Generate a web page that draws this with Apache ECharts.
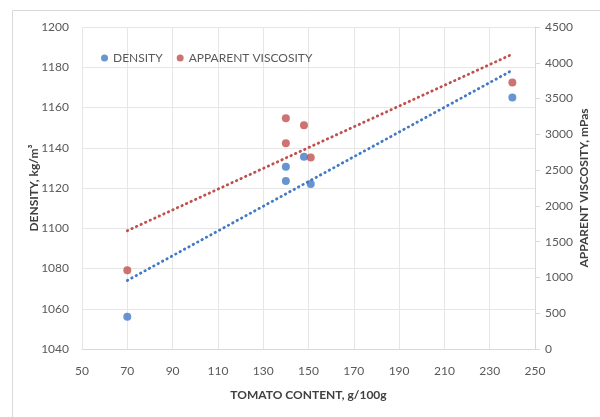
<!DOCTYPE html>
<html>
<head>
    <meta charset="UTF-8">
    <title>tomato</title>
    <script src="https://cdn.jsdelivr.net/npm/echarts@6/dist/echarts.min.js"></script>
    <style>
        *{margin:0;padding:0}
        html, body{width:100%;height:100%;background:#fff}
        #main{width:600px;height:417px}
    </style>
</head>
<body>
    <div id="main"></div>
    <script type="text/javascript">
        // tomato content, g/100g
        var tomato = [70, 140, 140, 148, 151, 240];
        // density, kg/m3
        var density = [1056, 1130.5, 1123.5, 1135.5, 1122, 1165];
        // apparent viscosity, mPas
        var viscosity = [1100, 3225, 2876, 3127, 2675, 3723];

        // linear trendline (least squares), like the spreadsheet one
        function trend(xs, ys) {
            var n = xs.length, mx = 0, my = 0, sxx = 0, sxy = 0;
            for (var i = 0; i < n; i++) { mx += xs[i] / n; my += ys[i] / n; }
            for (var j = 0; j < n; j++) {
                sxx += (xs[j] - mx) * (xs[j] - mx);
                sxy += (xs[j] - mx) * (ys[j] - my);
            }
            var k = sxy / sxx;
            var x0 = Math.min.apply(null, xs), x1 = Math.max.apply(null, xs);
            return [[x0, my + k * (x0 - mx)], [x1, my + k * (x1 - mx)]];
        }

        function pairs(xs, ys) {
            return xs.map(function (x, i) { return [x, ys[i]]; });
        }

        var blue = '#4279c4';
        var red = '#c0504d';
        var font = 'Lato, "Open Sans", sans-serif';
        var gridLine = {show: true, lineStyle: {color: '#e6e6e6', width: 1}};
        var plain = function (v) { return String(v); };

        var myChart = echarts.init(document.getElementById('main'));
        var option = {
            animation: false,
            textStyle: {fontFamily: font},
            graphic: [{
                type: 'rect',
                shape: {x: 12.5, y: 10.5, width: 600, height: 420},
                style: {fill: null, stroke: '#d9d9d9', lineWidth: 1},
                silent: true
            }],
            legend: {
                left: 96,
                top: 47,
                itemWidth: 7,
                itemHeight: 7,
                itemGap: 14,
                textStyle: {color: '#595959', fontSize: 12, fontFamily: font},
                data: [
                    {name: 'DENSITY', icon: 'circle'},
                    {name: 'APPARENT VISCOSITY', icon: 'circle'}
                ]
            },
            grid: {left: 82, right: 65, top: 27, bottom: 68},
            xAxis: {
                type: 'value',
                min: 50,
                max: 250,
                interval: 20,
                name: 'TOMATO CONTENT, g/100g',
                nameLocation: 'middle',
                nameGap: 40,
                nameTextStyle: {color: '#404040', fontWeight: 'bold', fontSize: 12, fontFamily: font},
                axisLine: {lineStyle: {color: '#d9d9d9'}},
                axisTick: {show: false},
                axisLabel: {color: '#595959', fontSize: 12, margin: 16, formatter: plain},
                splitLine: gridLine
            },
            yAxis: [{
                type: 'value',
                min: 1040,
                max: 1200,
                interval: 20,
                name: 'DENSITY, kg/m\u00b3',
                nameLocation: 'middle',
                nameGap: 42,
                nameMoveOverlap: false,
                nameTextStyle: {color: '#404040', fontWeight: 'bold', fontSize: 12, fontFamily: font},
                axisLine: {show: false},
                axisTick: {show: false},
                axisLabel: {color: '#595959', fontSize: 12, margin: 13, formatter: plain},
                splitLine: gridLine
            }, {
                type: 'value',
                min: 0,
                max: 4500,
                interval: 500,
                position: 'right',
                name: 'APPARENT VISCOSITY, mPas',
                nameLocation: 'middle',
                nameGap: 43,
                nameMoveOverlap: false,
                nameRotate: 90,
                nameTextStyle: {color: '#404040', fontWeight: 'bold', fontSize: 12, fontFamily: font},
                axisLine: {show: true, lineStyle: {color: '#d9d9d9'}},
                axisTick: {show: true, length: 5, lineStyle: {color: '#d9d9d9'}},
                axisLabel: {color: '#595959', fontSize: 12, margin: 10, formatter: plain},
                splitLine: {show: false}
            }],
            series: [{
                name: 'DENSITY',
                type: 'scatter',
                yAxisIndex: 0,
                symbolSize: 8,
                itemStyle: {color: blue},
                data: pairs(tomato, density),
                z: 3
            }, {
                name: 'APPARENT VISCOSITY',
                type: 'scatter',
                yAxisIndex: 1,
                symbolSize: 8,
                itemStyle: {color: red},
                data: pairs(tomato, viscosity),
                z: 3
            }, {
                name: 'density trend',
                type: 'line',
                yAxisIndex: 0,
                showSymbol: false,
                silent: true,
                lineStyle: {color: blue, width: 2.8, type: [0.5, 4.5], cap: 'round'},
                data: trend(tomato, density),
                z: 2
            }, {
                name: 'viscosity trend',
                type: 'line',
                yAxisIndex: 1,
                showSymbol: false,
                silent: true,
                lineStyle: {color: red, width: 2.8, type: [0.5, 4.5], cap: 'round'},
                data: trend(tomato, viscosity),
                z: 2
            }]
        };
        myChart.setOption(option);
    </script>
</body>
</html>
